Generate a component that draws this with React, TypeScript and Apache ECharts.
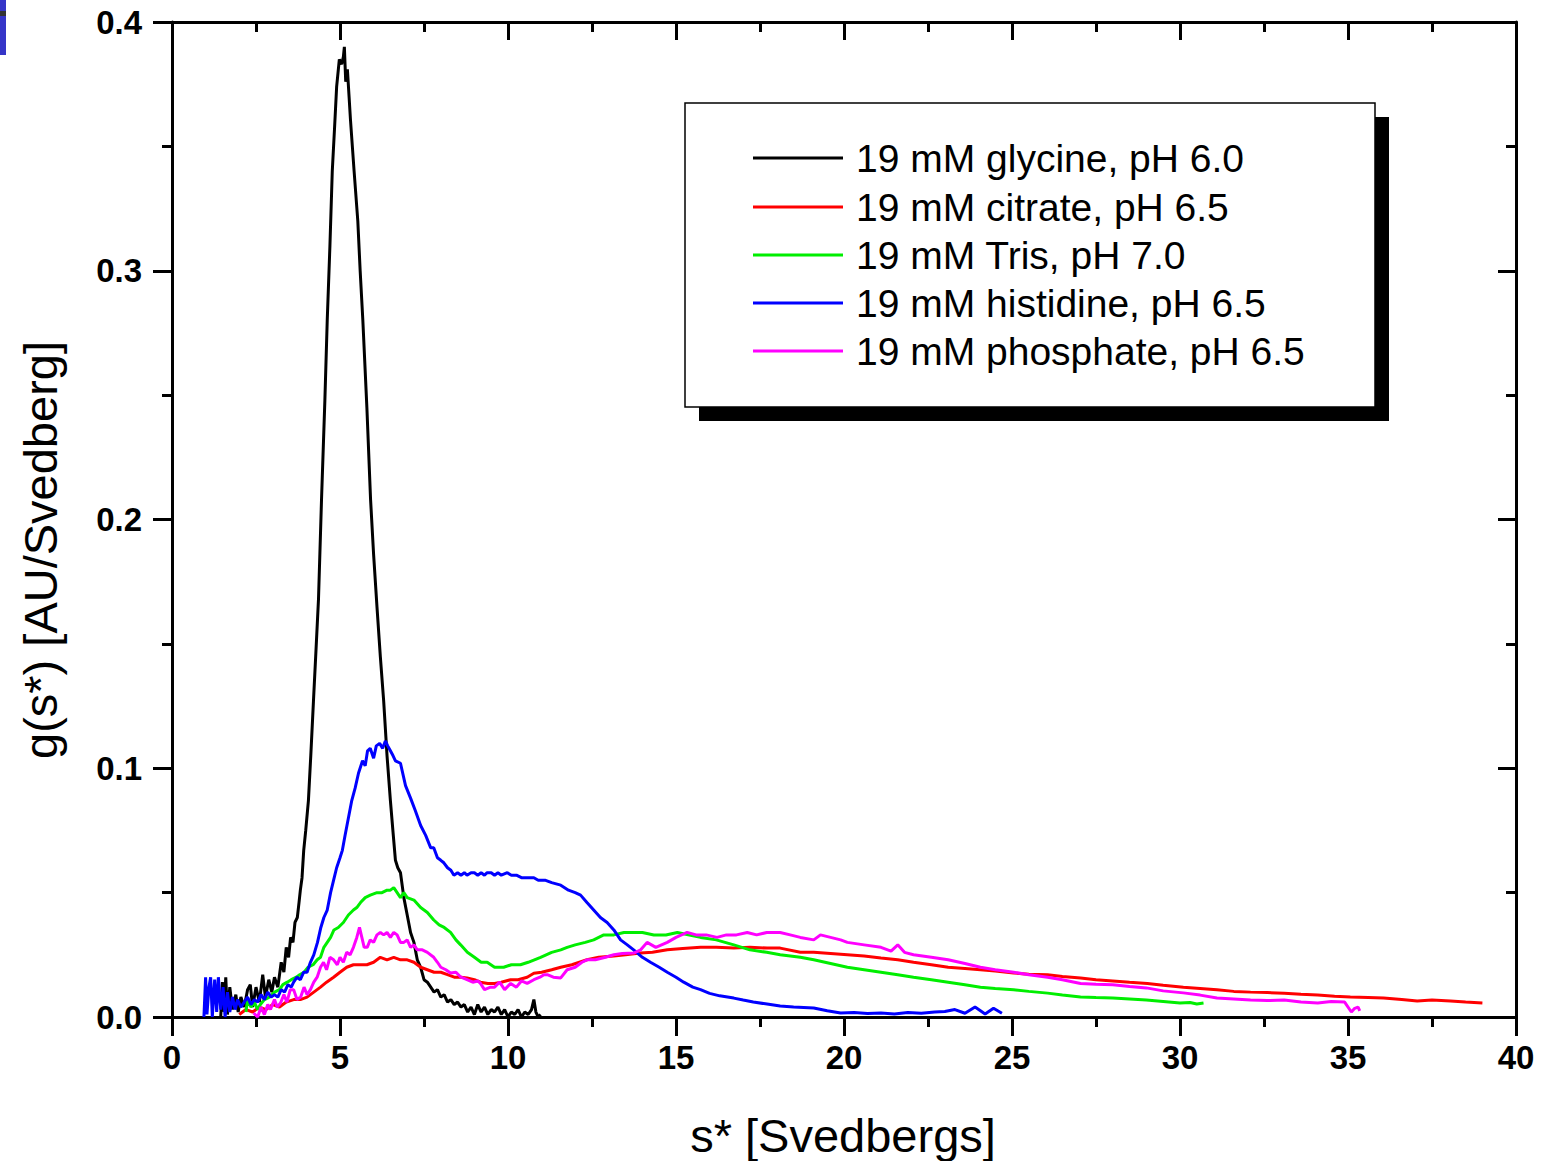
import React, { useEffect, useRef } from "react";
import * as echarts from "echarts";

// ---------- data (s* in Svedbergs, g(s*) in AU/Svedberg) ----------
const seriesNames = [
  "19 mM glycine, pH 6.0",
  "19 mM citrate, pH 6.5",
  "19 mM Tris, pH 7.0",
  "19 mM histidine, pH 6.5",
  "19 mM phosphate, pH 6.5",
];
const seriesColors = ["#000000", "#ff0000", "#00ee00", "#0000ff", "#ff00ff"];

const xTicks = [0, 5, 10, 15, 20, 25, 30, 35, 40];
const yTicks = [0.0, 0.1, 0.2, 0.3, 0.4];

const glycine: [number, number][] = [
  [1.45, 0.0], [1.5, 0.014], [1.55, 0.002], [1.6, 0.016], [1.65, 0.001], [1.72, 0.012], [1.8, 0.003],
  [1.9, 0.009], [1.97, 0.002], [2.05, 0.008], [2.15, 0.004], [2.25, 0.011], [2.33, 0.013], [2.4, 0.004],
  [2.5, 0.012], [2.6, 0.006], [2.7, 0.017], [2.78, 0.008], [2.88, 0.015], [2.97, 0.01], [3.05, 0.016],
  [3.15, 0.012], [3.25, 0.022], [3.33, 0.018], [3.4, 0.028], [3.47, 0.024], [3.53, 0.032], [3.6, 0.03],
  [3.66, 0.038], [3.73, 0.04], [3.78, 0.046], [3.82, 0.051], [3.87, 0.056], [3.92, 0.067], [3.98, 0.075],
  [4.06, 0.087], [4.13, 0.105], [4.21, 0.127], [4.28, 0.146], [4.36, 0.168], [4.45, 0.208], [4.55, 0.248],
  [4.62, 0.28], [4.7, 0.31], [4.77, 0.34], [4.84, 0.358], [4.9, 0.374], [4.98, 0.385], [5.05, 0.383],
  [5.1, 0.386], [5.13, 0.39], [5.17, 0.376], [5.22, 0.381], [5.27, 0.37], [5.31, 0.361], [5.42, 0.34],
  [5.53, 0.32], [5.6, 0.3], [5.68, 0.28], [5.8, 0.245], [5.91, 0.208], [6.0, 0.186], [6.1, 0.165],
  [6.2, 0.145], [6.3, 0.127], [6.4, 0.105], [6.5, 0.087], [6.58, 0.074], [6.65, 0.063], [6.72, 0.06],
  [6.8, 0.058], [6.9, 0.048], [7.0, 0.041], [7.1, 0.034], [7.2, 0.03], [7.3, 0.023], [7.4, 0.02],
  [7.5, 0.015], [7.6, 0.014], [7.7, 0.012], [7.8, 0.01], [7.9, 0.011], [8.0, 0.008], [8.1, 0.009],
  [8.2, 0.006], [8.3, 0.007], [8.4, 0.005], [8.5, 0.006], [8.6, 0.004], [8.7, 0.005], [8.8, 0.002],
  [8.9, 0.004], [9.0, 0.001], [9.1, 0.005], [9.2, 0.002], [9.3, 0.004], [9.4, 0.001], [9.5, 0.003],
  [9.6, 0.002], [9.7, 0.004], [9.8, 0.001], [9.9, 0.003], [10.0, 0.0], [10.1, 0.002], [10.2, 0.001],
  [10.3, 0.003], [10.4, 0.0], [10.5, 0.002], [10.6, 0.001], [10.7, 0.003], [10.77, 0.007], [10.83, 0.002],
  [10.9, 0.0], [10.97, 0.001],
];

const citrate: [number, number][] = [
  [2.0, 0.001], [2.2, 0.003], [2.4, 0.002], [2.6, 0.004], [2.8, 0.003], [3.0, 0.005], [3.2, 0.004],
  [3.4, 0.006], [3.62, 0.007], [3.82, 0.007], [4.02, 0.008], [4.22, 0.01], [4.42, 0.012], [4.6, 0.014],
  [4.81, 0.016], [5.0, 0.018], [5.2, 0.02], [5.4, 0.021], [5.6, 0.021], [5.8, 0.021], [6.0, 0.022],
  [6.2, 0.024], [6.4, 0.023], [6.6, 0.024], [6.8, 0.023], [7.0, 0.023], [7.2, 0.022], [7.4, 0.02],
  [7.6, 0.019], [7.8, 0.018], [8.0, 0.018], [8.2, 0.017], [8.4, 0.016], [8.6, 0.016], [8.78, 0.0157],
  [9.0, 0.015], [9.18, 0.014], [9.4, 0.0135], [9.6, 0.0135], [9.8, 0.014], [10.08, 0.015], [10.3, 0.015],
  [10.57, 0.016], [10.77, 0.0176], [11.0, 0.018], [11.3, 0.019], [11.57, 0.02], [11.9, 0.021],
  [12.35, 0.023], [12.7, 0.024], [13.15, 0.0245], [13.5, 0.025], [13.94, 0.0257], [14.3, 0.026],
  [14.74, 0.027], [15.2, 0.0275], [15.73, 0.028], [16.2, 0.028], [16.72, 0.0277], [17.2, 0.028],
  [17.71, 0.0277], [18.1, 0.0277], [18.7, 0.026], [19.1, 0.026], [19.6, 0.0255], [20.1, 0.025],
  [20.6, 0.0245], [21.1, 0.0237], [21.6, 0.023], [22.07, 0.022], [22.6, 0.021], [23.1, 0.02],
  [23.6, 0.0195], [24.06, 0.019], [24.5, 0.0185], [25.05, 0.0177], [25.5, 0.0172], [26.06, 0.017],
  [26.5, 0.0163], [27.04, 0.0157], [27.5, 0.015], [28.0, 0.0145], [28.5, 0.014], [29.03, 0.0135],
  [29.5, 0.0128], [30.1, 0.012], [30.6, 0.0115], [31.1, 0.011], [31.6, 0.0103], [32.1, 0.01],
  [32.6, 0.0098], [33.1, 0.0095], [33.6, 0.0091], [34.1, 0.0088], [34.6, 0.0083], [35.07, 0.008],
  [35.6, 0.0078], [36.06, 0.0076], [36.6, 0.007], [37.06, 0.0064], [37.5, 0.0068], [38.05, 0.0064],
  [38.5, 0.006], [39.0, 0.0056],
];

const tris: [number, number][] = [
  [2.2, 0.002], [2.25, 0.007], [2.35, 0.004], [2.45, 0.006], [2.55, 0.003], [2.63, 0.005], [2.75, 0.007],
  [2.9, 0.008], [3.05, 0.01], [3.2, 0.011], [3.3, 0.013], [3.43, 0.014], [3.55, 0.015], [3.7, 0.016],
  [3.8, 0.017], [3.93, 0.018], [4.05, 0.02], [4.2, 0.021], [4.32, 0.023], [4.42, 0.024], [4.52, 0.028],
  [4.62, 0.03], [4.72, 0.032], [4.82, 0.035], [4.95, 0.036], [5.1, 0.038], [5.25, 0.041], [5.4, 0.043],
  [5.5, 0.044], [5.61, 0.046], [5.75, 0.048], [5.9, 0.049], [6.1, 0.05], [6.25, 0.05], [6.4, 0.051],
  [6.5, 0.051], [6.6, 0.052], [6.7, 0.05], [6.8, 0.048], [6.9, 0.05], [7.0, 0.048], [7.2, 0.047],
  [7.4, 0.044], [7.6, 0.042], [7.79, 0.039], [7.95, 0.037], [8.1, 0.036], [8.29, 0.034], [8.45, 0.031],
  [8.59, 0.029], [8.79, 0.026], [9.0, 0.024], [9.2, 0.022], [9.38, 0.022], [9.6, 0.02], [9.87, 0.02],
  [10.1, 0.021], [10.37, 0.021], [10.6, 0.022], [10.97, 0.024], [11.3, 0.026], [11.57, 0.027],
  [11.76, 0.028], [12.0, 0.029], [12.3, 0.03], [12.55, 0.031], [12.85, 0.033], [13.15, 0.033],
  [13.45, 0.034], [13.74, 0.034], [14.0, 0.034], [14.34, 0.033], [14.7, 0.033], [15.04, 0.034],
  [15.4, 0.033], [15.73, 0.032], [16.2, 0.031], [16.72, 0.029], [17.2, 0.027], [17.7, 0.026],
  [18.1, 0.025], [18.7, 0.024], [19.1, 0.023], [19.6, 0.0215], [20.1, 0.02], [20.6, 0.019],
  [21.1, 0.018], [21.6, 0.017], [22.07, 0.016], [22.6, 0.015], [23.1, 0.014], [23.6, 0.013],
  [24.06, 0.012], [24.5, 0.0115], [25.05, 0.011], [25.5, 0.0103], [26.06, 0.0096], [26.5, 0.0088],
  [27.04, 0.008], [27.5, 0.0078], [28.0, 0.0076], [28.5, 0.0072], [29.0, 0.0068], [29.5, 0.0062],
  [30.0, 0.0056], [30.3, 0.0058], [30.5, 0.0052], [30.7, 0.0056],
];

const histidine: [number, number][] = [
  [0.95, 0.0], [1.0, 0.016], [1.04, 0.001], [1.1, 0.012], [1.15, 0.016], [1.2, 0.0], [1.27, 0.015],
  [1.33, 0.002], [1.38, 0.016], [1.45, 0.003], [1.52, 0.012], [1.58, 0.0], [1.65, 0.01], [1.72, 0.002],
  [1.8, 0.008], [1.88, 0.003], [1.95, 0.007], [2.05, 0.004], [2.15, 0.006], [2.25, 0.008], [2.35, 0.005],
  [2.45, 0.007], [2.55, 0.006], [2.65, 0.009], [2.75, 0.007], [2.85, 0.01], [2.95, 0.008], [3.05, 0.009],
  [3.15, 0.008], [3.25, 0.011], [3.35, 0.01], [3.45, 0.013], [3.55, 0.012], [3.62, 0.014], [3.72, 0.016],
  [3.82, 0.015], [3.92, 0.018], [4.02, 0.018], [4.12, 0.022], [4.22, 0.025], [4.33, 0.03], [4.43, 0.036],
  [4.52, 0.04], [4.62, 0.043], [4.72, 0.05], [4.81, 0.055], [4.9, 0.06], [5.0, 0.064], [5.07, 0.067],
  [5.15, 0.073], [5.25, 0.08], [5.35, 0.087], [5.45, 0.092], [5.55, 0.098], [5.67, 0.103], [5.75, 0.101],
  [5.82, 0.107], [5.9, 0.108], [6.0, 0.104], [6.08, 0.109], [6.18, 0.11], [6.27, 0.108], [6.35, 0.111],
  [6.42, 0.109], [6.5, 0.107], [6.58, 0.105], [6.65, 0.103], [6.8, 0.102], [6.95, 0.093], [7.1, 0.088],
  [7.24, 0.083], [7.4, 0.077], [7.55, 0.073], [7.7, 0.068], [7.79, 0.068], [7.9, 0.064], [8.0, 0.063],
  [8.09, 0.062], [8.2, 0.06], [8.3, 0.059], [8.39, 0.057], [8.5, 0.058], [8.6, 0.057], [8.7, 0.058],
  [8.78, 0.057], [8.9, 0.058], [9.0, 0.058], [9.1, 0.057], [9.2, 0.058], [9.3, 0.057], [9.38, 0.058],
  [9.5, 0.058], [9.6, 0.057], [9.7, 0.058], [9.8, 0.057], [9.98, 0.058], [10.1, 0.057], [10.25, 0.057],
  [10.4, 0.056], [10.6, 0.056], [10.77, 0.056], [10.9, 0.055], [11.1, 0.055], [11.3, 0.054],
  [11.57, 0.053], [11.8, 0.051], [12.0, 0.05], [12.16, 0.049], [12.35, 0.046], [12.55, 0.043],
  [12.75, 0.04], [12.95, 0.038], [13.15, 0.035], [13.35, 0.031], [13.55, 0.029], [13.74, 0.027],
  [14.0, 0.024], [14.24, 0.022], [14.5, 0.02], [14.74, 0.018], [15.0, 0.016], [15.23, 0.014],
  [15.5, 0.012], [15.73, 0.011], [16.0, 0.0095], [16.3, 0.0085], [16.72, 0.0076], [17.0, 0.0068],
  [17.3, 0.006], [17.71, 0.0052], [18.1, 0.0044], [18.5, 0.004], [18.8, 0.0038], [19.1, 0.0036],
  [19.5, 0.0025], [19.9, 0.0016], [20.3, 0.0018], [20.7, 0.0014], [21.1, 0.0016], [21.5, 0.0012],
  [21.9, 0.0018], [22.3, 0.0015], [22.7, 0.002], [23.0, 0.0022], [23.3, 0.003], [23.6, 0.0015],
  [23.9, 0.004], [24.2, 0.0012], [24.45, 0.0035], [24.7, 0.0015],
];

const phosphate: [number, number][] = [
  [2.43, 0.0016], [2.55, 0.0], [2.65, 0.004], [2.75, 0.001], [2.85, 0.005], [2.93, 0.003], [3.05, 0.007],
  [3.13, 0.004], [3.23, 0.0056], [3.33, 0.009], [3.42, 0.006], [3.52, 0.011], [3.62, 0.011], [3.72, 0.007],
  [3.83, 0.008], [3.93, 0.012], [4.02, 0.009], [4.12, 0.011], [4.22, 0.014], [4.32, 0.016], [4.42, 0.02],
  [4.51, 0.022], [4.6, 0.019], [4.7, 0.024], [4.81, 0.023], [4.92, 0.021], [5.0, 0.024], [5.1, 0.022],
  [5.2, 0.026], [5.3, 0.025], [5.4, 0.028], [5.5, 0.032], [5.58, 0.036], [5.65, 0.032], [5.72, 0.028],
  [5.81, 0.028], [5.9, 0.031], [6.0, 0.03], [6.1, 0.033], [6.2, 0.034], [6.3, 0.033], [6.4, 0.034],
  [6.5, 0.032], [6.6, 0.034], [6.7, 0.033], [6.8, 0.03], [6.9, 0.03], [7.0, 0.031], [7.1, 0.028],
  [7.2, 0.029], [7.3, 0.027], [7.45, 0.027], [7.6, 0.026], [7.79, 0.024], [7.9, 0.022], [8.0, 0.02],
  [8.15, 0.019], [8.29, 0.0177], [8.45, 0.018], [8.6, 0.016], [8.78, 0.015], [8.95, 0.014], [9.1, 0.0145],
  [9.18, 0.0135], [9.3, 0.011], [9.48, 0.012], [9.6, 0.012], [9.75, 0.014], [9.9, 0.011], [10.08, 0.0135],
  [10.25, 0.012], [10.4, 0.0145], [10.57, 0.0135], [10.77, 0.015], [10.95, 0.016], [11.07, 0.017],
  [11.17, 0.017], [11.35, 0.016], [11.57, 0.0157], [11.76, 0.019], [12.0, 0.02], [12.2, 0.022],
  [12.35, 0.023], [12.6, 0.023], [12.9, 0.024], [13.15, 0.025], [13.4, 0.0255], [13.74, 0.0257],
  [13.95, 0.027], [14.14, 0.03], [14.4, 0.028], [14.74, 0.03], [15.0, 0.032], [15.33, 0.034],
  [15.6, 0.033], [15.9, 0.033], [16.22, 0.032], [16.5, 0.033], [16.8, 0.033], [17.12, 0.034],
  [17.4, 0.033], [17.7, 0.034], [18.1, 0.034], [18.4, 0.033], [18.7, 0.032], [19.1, 0.031],
  [19.3, 0.033], [19.6, 0.032], [19.9, 0.031], [20.1, 0.03], [20.6, 0.029], [21.1, 0.028],
  [21.4, 0.0265], [21.6, 0.029], [21.8, 0.026], [22.07, 0.025], [22.6, 0.024], [23.1, 0.023],
  [23.6, 0.0215], [24.06, 0.02], [24.5, 0.019], [25.05, 0.018], [25.5, 0.017], [26.06, 0.016],
  [26.5, 0.015], [27.04, 0.0135], [27.5, 0.0132], [28.0, 0.013], [28.5, 0.0123], [29.0, 0.0117],
  [29.5, 0.0105], [30.1, 0.0097], [30.6, 0.0088], [31.1, 0.0076], [31.6, 0.0072], [32.1, 0.0068],
  [32.6, 0.0066], [33.1, 0.0068], [33.6, 0.006], [34.1, 0.0056], [34.5, 0.0062], [34.9, 0.006],
  [35.1, 0.002], [35.2, 0.0035], [35.3, 0.004], [35.35, 0.0025],
];

const allSeries = [glycine, citrate, tris, histidine, phosphate];

const xTitle = "s* [Svedbergs]";
const yTitle = "g(s*) [AU/Svedberg]";

const FONT = '"Liberation Sans", Arial, Helvetica, sans-serif';

export default function App() {
  const ref = useRef<HTMLDivElement>(null);

  useEffect(() => {
    document.body.style.margin = "0";
    if (!ref.current) return;
    const chart = echarts.init(ref.current, null, { renderer: "svg" });

    const axisLine = { show: true, onZero: false, lineStyle: { color: "#000", width: 3 } };
    const tickStyle = { color: "#000", width: 3 };
    const labelStyle = { color: "#000", fontSize: 33, fontWeight: "bold" as const, fontFamily: FONT };

    const xBase = {
      type: "value" as const,
      min: xTicks[0],
      max: xTicks[xTicks.length - 1],
      interval: 5,
      splitLine: { show: false },
      axisLine,
    };
    const yBase = {
      type: "value" as const,
      min: yTicks[0],
      max: yTicks[yTicks.length - 1],
      interval: 0.1,
      splitLine: { show: false },
      axisLine,
    };

    const legendX0 = 685;
    const legendY0 = 103;
    const legendW = 690;
    const legendH = 304;
    const rowY = [158, 207, 255, 303, 351];

    const legendEls: any[] = [
      { type: "rect", shape: { x: legendX0 + 14, y: legendY0 + 14, width: legendW, height: legendH }, style: { fill: "#000" }, z: 100 },
      { type: "rect", shape: { x: legendX0, y: legendY0, width: legendW, height: legendH }, style: { fill: "#fff", stroke: "#000", lineWidth: 1.5 }, z: 101 },
    ];
    seriesNames.forEach((n, i) => {
      legendEls.push({
        type: "line",
        shape: { x1: 753, y1: rowY[i], x2: 843, y2: rowY[i] },
        style: { stroke: seriesColors[i], lineWidth: 3 },
        z: 102,
      });
      legendEls.push({
        type: "text",
        x: 856,
        y: rowY[i],
        style: { text: n, font: `39px ${FONT}`, fill: "#000", textAlign: "left", textVerticalAlign: "middle" },
        z: 102,
      });
    });

    chart.setOption({
      animation: false,
      backgroundColor: "#fff",
      grid: { left: 172, right: 28, top: 22, bottom: 144, containLabel: false },
      xAxis: [
        {
          ...xBase,
          position: "bottom",
          axisTick: { show: true, inside: false, length: 19, lineStyle: tickStyle },
          minorTick: { show: true, splitNumber: 2, length: 10, lineStyle: tickStyle },
          axisLabel: { ...labelStyle, margin: 24 },
        },
        {
          ...xBase,
          position: "top",
          axisTick: { show: true, inside: true, length: 18, lineStyle: tickStyle },
          minorTick: { show: true, splitNumber: 2, length: 10, lineStyle: tickStyle },
          axisLabel: { show: false },
        },
      ],
      yAxis: [
        {
          ...yBase,
          position: "left",
          axisTick: { show: true, inside: false, length: 19, lineStyle: tickStyle },
          minorTick: { show: true, splitNumber: 2, length: 10, lineStyle: tickStyle },
          axisLabel: { ...labelStyle, margin: 30, formatter: (v: number) => v.toFixed(1) },
        },
        {
          ...yBase,
          position: "right",
          axisTick: { show: true, inside: true, length: 18, lineStyle: tickStyle },
          minorTick: { show: true, splitNumber: 2, length: 10, lineStyle: tickStyle },
          axisLabel: { show: false },
        },
      ],
      series: allSeries.map((d, i) => ({
        type: "line",
        name: seriesNames[i],
        data: d,
        xAxisIndex: 0,
        yAxisIndex: 0,
        showSymbol: false,
        symbol: "none",
        clip: true,
        lineStyle: { color: seriesColors[i], width: 3 },
        z: 2 + i,
      })),
      graphic: [
        { type: "rect", shape: { x: 0, y: 0, width: 6, height: 55 }, style: { fill: "#3535c8" } },
        { type: "rect", shape: { x: 0, y: 11, width: 6, height: 5 }, style: { fill: "#333" } },
        {
          type: "text",
          x: 843,
          y: 1135,
          style: { text: xTitle, font: `47px ${FONT}`, fill: "#000", textAlign: "center", textVerticalAlign: "middle" },
        },
        {
          type: "text",
          x: 40,
          y: 550,
          rotation: Math.PI / 2,
          style: { text: yTitle, font: `47px ${FONT}`, fill: "#000", textAlign: "center", textVerticalAlign: "middle" },
        },
        ...legendEls,
      ],
    });

    return () => chart.dispose();
  }, []);

  return <div ref={ref} style={{ width: 1544, height: 1161 }} />;
}
